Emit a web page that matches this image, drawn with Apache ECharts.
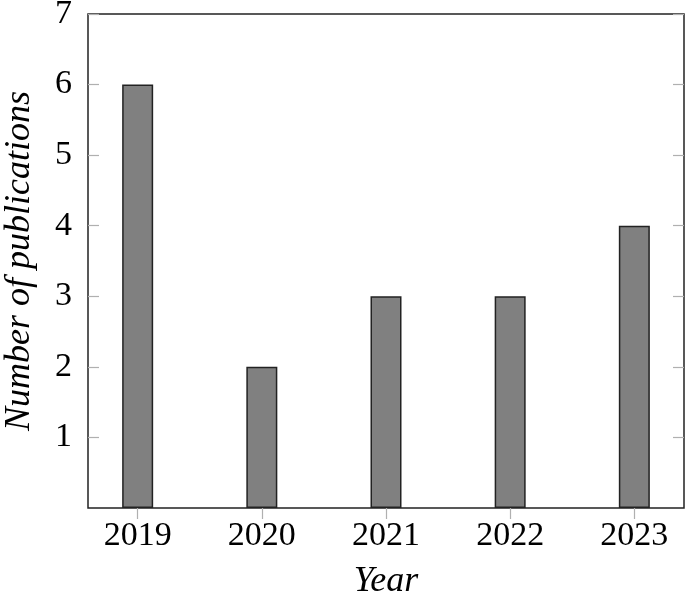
<!DOCTYPE html>
<html>
<head>
<meta charset="utf-8">
<script src="https://cdn.jsdelivr.net/npm/echarts@6/dist/echarts.min.js"></script>
<style>
    html, body { margin: 0; padding: 0; background: #fff; }
    #chart { width: 685px; height: 594px; }
</style>
</head>
<body>
<div id="chart"></div>
<script>
    var years = [2019, 2020, 2021, 2022, 2023];
    var publications = [6, 2, 3, 3, 4];
    var yTicks = [1, 2, 3, 4, 5, 6, 7];

    var font = '"Liberation Serif", "DejaVu Serif", serif';
    var tickGrey = '#b0b0b0';
    var frame = '#222';

    var chart = echarts.init(document.getElementById('chart'));

    var xCommon = {
        type: 'value',
        min: 2018.6,
        max: 2023.4,
        splitLine: { show: false },
        axisLine: { show: false },
        axisTick: {
            show: true,
            inside: true,
            length: 11,
            customValues: years,
            lineStyle: { color: tickGrey, width: 1.2 }
        }
    };
    var yCommon = {
        type: 'value',
        min: 0,
        max: 7,
        interval: 1,
        splitLine: { show: false },
        axisLine: { show: false },
        axisTick: {
            show: true,
            inside: true,
            length: 11,
            customValues: yTicks,
            lineStyle: { color: tickGrey, width: 1.2 }
        }
    };

    var option = {
        animation: false,
        textStyle: { fontFamily: font },
        grid: {
            left: 88, right: 1, top: 14, bottom: 86,
            outerBoundsMode: 'none',
            containLabel: false,
            show: true,
            borderColor: frame,
            borderWidth: 1.5,
            backgroundColor: 'transparent'
        },
        xAxis: [
            Object.assign({}, xCommon, {
                position: 'bottom',
                name: 'Year',
                nameLocation: 'middle',
                nameGap: 56,
                nameTextStyle: { fontFamily: font, fontSize: 36, fontStyle: 'italic', color: '#000' },
                axisLabel: {
                    customValues: years,
                    margin: 11,
                    fontFamily: font,
                    fontSize: 34,
                    color: '#000',
                    formatter: function (v) { return String(v); }
                }
            }),
            Object.assign({}, xCommon, {
                position: 'top',
                axisLabel: { show: false }
            })
        ],
        yAxis: [
            Object.assign({}, yCommon, {
                position: 'left',
                name: 'Number of publications',
                nameLocation: 'middle',
                nameGap: 50,
                nameTextStyle: { fontFamily: font, fontSize: 36, fontStyle: 'italic', color: '#000' },
                axisLabel: {
                    customValues: yTicks,
                    margin: 16,
                    fontFamily: font,
                    fontSize: 34,
                    color: '#000'
                }
            }),
            Object.assign({}, yCommon, {
                position: 'right',
                axisLabel: { show: false }
            })
        ],
        series: [{
            type: 'bar',
            xAxisIndex: 0,
            yAxisIndex: 0,
            barWidth: 31,
            data: years.map(function (y, i) { return [y, publications[i]]; }),
            itemStyle: {
                color: '#808080',
                borderColor: frame,
                borderWidth: 1.5
            }
        }]
    };

    chart.setOption(option);
</script>
</body>
</html>
